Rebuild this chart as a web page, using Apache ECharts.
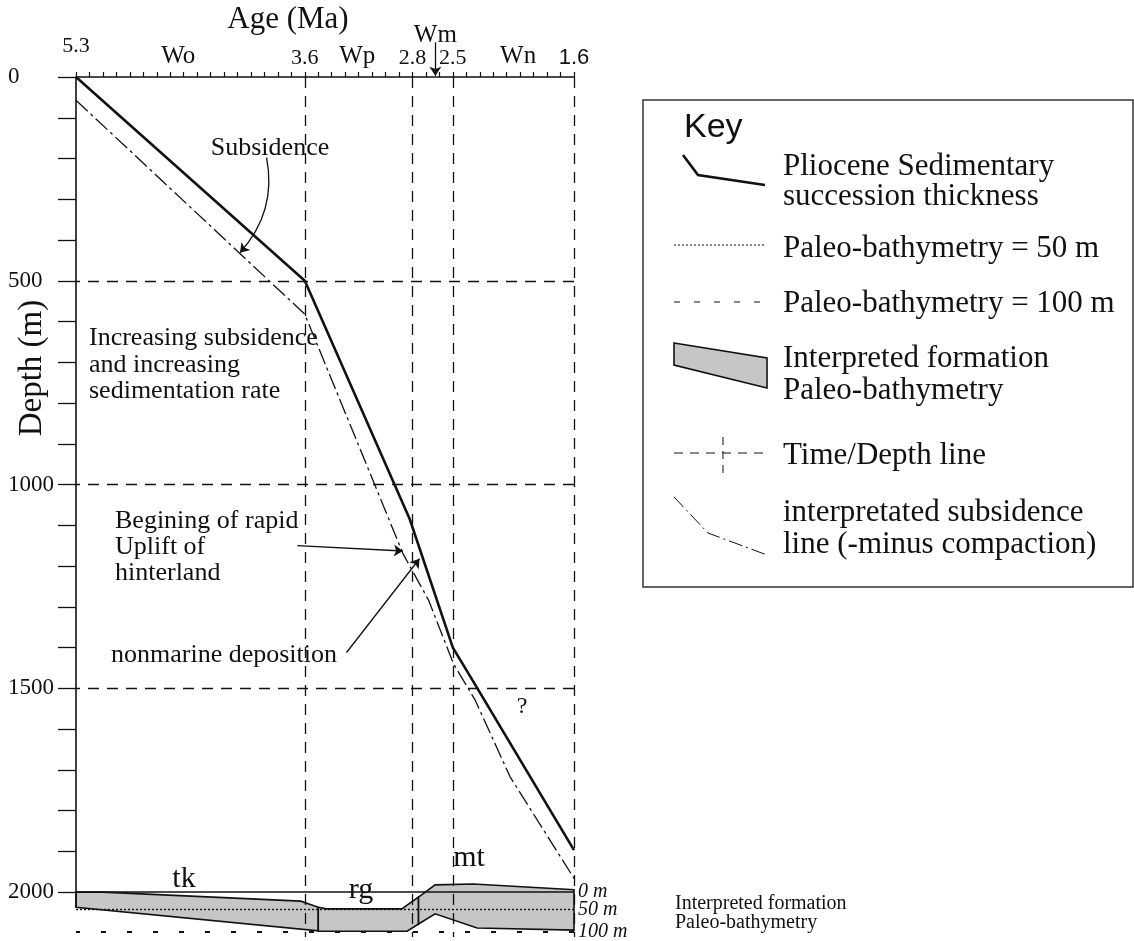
<!DOCTYPE html>
<html>
<head>
<meta charset="utf-8">
<title>Pliocene subsidence</title>
<script src="https://cdn.jsdelivr.net/npm/echarts@6.0.0/dist/echarts.min.js"></script>
<style>
  html, body { margin: 0; padding: 0; background: #fff; }
  #chart { width: 1134px; height: 941px; }
</style>
</head>
<body>
<div id="chart"></div>
<script>
// age axis (Ma), reversed: old on the left
var AGE_LABELS = [5.3, 3.6, 2.8, 2.5, 1.6]
var STAGE_AGES = [4.54, 3.21, 2.63, 2.015]
var STAGE_NAMES = ['Wo', 'Wp', 'Wm', 'Wn']
var TIME_LINES = [3.6, 2.8, 2.5, 1.6]

// depth axis (m)
var DEPTH_TICKS = [0, 100, 200, 300, 400, 500, 600, 700, 800, 900, 1000,
  1100, 1200, 1300, 1400, 1500, 1600, 1700, 1800, 1900, 2000]
var DEPTH_LABELS = [0, 500, 1000, 1500, 2000]
var DEPTH_LINES = [500, 1000, 1500]
var AXIS_LINE_AGE = [5.3, 5.3]
var AXIS_LINE_DEPTH = [0, 2037]

// Pliocene sedimentary succession thickness
var thickAge = [5.3, 3.6, 2.82, 2.5, 2.3, 1.6]
var thickDepth = [0, 500, 1085, 1400, 1510, 1897]

// interpreted subsidence line (minus compaction)
var subsAge = [5.3, 3.6, 2.87, 2.68, 2.495, 2.334, 2.075, 1.6]
var subsDepth = [57, 582, 1170, 1284, 1440, 1529, 1717, 1966]

// paleo-bathymetry reference levels, drawn below the 2000 m line
var BATHY_DEPTH = [2000, 2043, 2096]
var BATHY_NAMES = ['0 m', '50 m', '100 m']

// interpreted formations (polygon outlines)
var tkAge = [5.3, 5.1, 3.63, 3.5, 3.5, 5.3]
var tkDepth = [2000, 2000, 2022, 2037, 2095, 2037]
var rgAge = [3.5, 3.44, 2.88, 2.755, 2.755, 2.84, 3.5]
var rgDepth = [2037, 2041, 2041, 2012, 2078, 2096, 2096]
var mtAge = [2.755, 2.632, 2.347, 1.6, 1.6, 2.32, 2.632, 2.755]
var mtDepth = [2012, 1982, 1980, 1994, 2093, 2088, 2053, 2078]

// annotation arrows [age, depth] -> [age, depth]
var arrowFrom = [[3.884, 198], [3.656, 1150], [3.29, 1412], [2.63, -85]]
var arrowTo = [[4.082, 431], [2.871, 1163], [2.748, 1182], [2.63, -3]]
var arrowCurve = [0.25, 0, 0, 0]

function pairs (xs, ys) {
  return xs.map(function (x, i) { return [x, ys[i]] })
}

var SERIF = '"Liberation Serif", "DejaVu Serif", serif'
var SANS = '"Liberation Sans", Arial, sans-serif'
var INK = '#111'

function polygonSeries (name, ages, depths) {
  var pts = pairs(ages, depths)
  return {
    name: name,
    type: 'custom',
    z: 4,
    data: pts,
    encode: { x: 0, y: 1 },
    renderItem: function (params, api) {
      if (params.dataIndex !== 0) return null
      return {
        type: 'polygon',
        shape: { points: pts.map(function (p) { return api.coord(p) }) },
        style: { fill: '#c6c6c6', stroke: INK, lineWidth: 1.6 }
      }
    }
  }
}

function text (x, y, str, size, extra) {
  var style = { text: str, font: size + 'px ' + SERIF, fill: INK, verticalAlign: 'middle' }
  for (var k in extra) style[k] = extra[k]
  return { type: 'text', x: x, y: y, z: 20, style: style }
}

var bathyStyles = [
  { color: INK, width: 1.6, type: 'solid' },
  { color: INK, width: 1.4, type: [2, 2] },
  { color: INK, width: 2, type: [5, 21] }
]

var chart = echarts.init(document.getElementById('chart'), null, { renderer: 'canvas' })

var option = {
  backgroundColor: '#fff',
  animation: false,
  grid: { left: 76, top: 77, width: 498, height: 860, outerBoundsMode: 'none', containLabel: false },
  xAxis: [{
    type: 'value',
    min: 1.6,
    max: 5.3,
    interval: 0.1,
    inverse: true,
    position: 'top',
    axisLine: { onZero: false, lineStyle: { color: INK, width: 1.5 } },
    axisTick: { length: 5, lineStyle: { color: INK, width: 1.2 } },
    splitLine: { show: false },
    axisLabel: {
      customValues: AGE_LABELS,
      margin: 8,
      formatter: function (v) {
        var s = v.toFixed(1)
        if (s === '5.3') return '{hi|' + s + '}'
        if (s === '1.6') return '{sans|' + s + '}'
        return '{n|' + s + '}'
      },
      rich: {
        n: { fontFamily: SERIF, fontSize: 22, color: INK },
        hi: { fontFamily: SERIF, fontSize: 22, color: INK, padding: [0, 0, 12, 0] },
        sans: { fontFamily: SANS, fontSize: 22, color: INK }
      }
    }
  }, {
    type: 'value',
    min: 1.6,
    max: 5.3,
    inverse: true,
    position: 'top',
    offset: 0,
    axisLine: { show: false, onZero: false },
    axisTick: { show: false },
    splitLine: { show: false },
    axisLabel: {
      customValues: STAGE_AGES,
      margin: 8,
      formatter: function (v) {
        var name = STAGE_NAMES[STAGE_AGES.indexOf(v)]
        return name === 'Wm' ? '{hi|' + name + '}' : '{n|' + name + '}'
      },
      rich: {
        n: { fontFamily: SERIF, fontSize: 25, color: INK },
        hi: { fontFamily: SERIF, fontSize: 25, color: INK, padding: [0, 0, 21, 0] }
      }
    }
  }],
  yAxis: {
    type: 'value',
    min: 0,
    max: 2110,
    inverse: true,
    axisLine: { show: false },
    axisTick: {
      customValues: DEPTH_TICKS,
      length: 18,
      lineStyle: { color: INK, width: 1.3 }
    },
    splitLine: { show: false },
    axisLabel: {
      customValues: DEPTH_LABELS,
      align: 'left',
      margin: 68,
      fontFamily: SERIF,
      fontSize: 23,
      color: INK,
      formatter: function (v) { return String(v) }
    }
  },
  series: [
    {
      // time/depth grid lines
      name: 'Time/Depth line',
      type: 'line',
      data: [],
      z: 1,
      silent: true,
      markLine: {
        silent: true,
        symbol: 'none',
        label: { show: false },
        lineStyle: { color: INK, width: 1.3, type: [11, 8] },
        data: DEPTH_LINES.map(function (d) { return { yAxis: d } })
          .concat(TIME_LINES.map(function (a) { return { xAxis: a } }))
      }
    },
    polygonSeries('tk', tkAge, tkDepth),
    polygonSeries('rg', rgAge, rgDepth),
    polygonSeries('mt', mtAge, mtDepth),
    {
      // bathymetry levels drawn over the formations, labelled at the young (right) end
      name: 'Paleo-bathymetry',
      type: 'line',
      data: [],
      z: 6,
      silent: true,
      markLine: {
        silent: true,
        symbol: 'none',
        label: {
          show: true,
          position: 'start',
          distance: 4,
          color: INK,
          fontFamily: SERIF,
          fontStyle: 'italic',
          fontSize: 20,
          formatter: function (p) { return p.name }
        },
        data: BATHY_DEPTH.map(function (d, i) {
          return { yAxis: d, name: BATHY_NAMES[i], lineStyle: bathyStyles[i] }
        })
      }
    },
    {
      name: 'Depth axis',
      type: 'line',
      data: pairs(AXIS_LINE_AGE, AXIS_LINE_DEPTH),
      symbol: 'none',
      z: 7,
      lineStyle: { color: INK, width: 1.6 }
    },
    {
      name: 'Pliocene Sedimentary succession thickness',
      type: 'line',
      data: pairs(thickAge, thickDepth),
      symbol: 'none',
      z: 8,
      lineStyle: { color: INK, width: 2.6 }
    },
    {
      name: 'interpretated subsidence line',
      type: 'line',
      data: pairs(subsAge, subsDepth),
      symbol: 'none',
      z: 8,
      lineStyle: { color: INK, width: 1.3, type: [16, 4, 3, 4] }
    },
    {
      name: 'Annotation arrows',
      type: 'lines',
      coordinateSystem: 'cartesian2d',
      clip: false,
      silent: true,
      z: 9,
      symbol: ['none', 'arrow'],
      symbolSize: 9,
      lineStyle: { color: INK, width: 1.3, opacity: 1 },
      data: arrowFrom.map(function (f, i) {
        return { coords: [f, arrowTo[i]], lineStyle: { curveness: arrowCurve[i] } }
      })
    }
  ]
}

chart.setOption(option)

chart.setOption({
  graphic: [
    text(288, 20, 'Age (Ma)', 31, { align: 'center' }),
    { type: 'text', x: 32, y: 368, rotation: Math.PI / 2, style: { text: 'Depth (m)', font: '33px ' + SERIF, fill: INK, align: 'center', verticalAlign: 'middle' } },
    text(270, 148, 'Subsidence', 26, { align: 'center' }),
    text(89, 365, 'Increasing subsidence\nand increasing\nsedimentation rate', 26, { lineHeight: 26.5 }),
    text(115, 547, 'Begining of rapid\nUplift of\nhinterland', 26, { lineHeight: 26 }),
    text(111, 655, 'nonmarine deposition', 26),
    text(522, 707, '?', 24, { align: 'center' }),
    text(184, 879, 'tk', 30, { align: 'center' }),
    text(361, 890, 'rg', 30, { align: 'center' }),
    text(469, 858, 'mt', 30, { align: 'center' }),
    text(675, 913, 'Interpreted formation\nPaleo-bathymetry', 20, { lineHeight: 19 }),

    // key box
    { type: 'rect', shape: { x: 643, y: 100, width: 490, height: 487 }, style: { fill: '#fff', stroke: '#333', lineWidth: 1.5 } },
    { type: 'text', x: 684, y: 128, style: { text: 'Key', font: '34px ' + SANS, fill: INK, verticalAlign: 'middle' } },
    { type: 'polyline', shape: { points: [[683, 155], [698, 175], [765, 185]] }, style: { stroke: INK, lineWidth: 2.6, fill: null } },
    text(783, 182, 'Pliocene Sedimentary\nsuccession thickness', 31, { lineHeight: 30 }),
    { type: 'line', shape: { x1: 674, y1: 245, x2: 765, y2: 245 }, style: { stroke: INK, lineWidth: 1, lineDash: [2, 2] } },
    text(783, 249, 'Paleo-bathymetry = 50 m', 31),
    { type: 'line', shape: { x1: 674, y1: 302, x2: 765, y2: 302 }, style: { stroke: INK, lineWidth: 1, lineDash: [6, 14] } },
    text(783, 304, 'Paleo-bathymetry = 100 m', 31),
    { type: 'polygon', shape: { points: [[674, 343], [767, 358], [767, 388], [674, 365]] }, style: { fill: '#c6c6c6', stroke: INK, lineWidth: 1.6 } },
    text(783, 375, 'Interpreted formation\nPaleo-bathymetry', 31, { lineHeight: 32 }),
    { type: 'line', shape: { x1: 674, y1: 453, x2: 767, y2: 453 }, style: { stroke: INK, lineWidth: 1, lineDash: [9, 7] } },
    { type: 'line', shape: { x1: 723, y1: 437, x2: 723, y2: 478 }, style: { stroke: INK, lineWidth: 1, lineDash: [8, 6] } },
    text(783, 456, 'Time/Depth line', 31),
    { type: 'polyline', shape: { points: [[674, 497], [708, 533], [767, 555]] }, style: { stroke: INK, lineWidth: 1, lineDash: [14, 4, 2, 4], fill: null } },
    text(783, 529, 'interpretated subsidence\nline (-minus compaction)', 31, { lineHeight: 32 })
  ]
})
</script>
</body>
</html>
